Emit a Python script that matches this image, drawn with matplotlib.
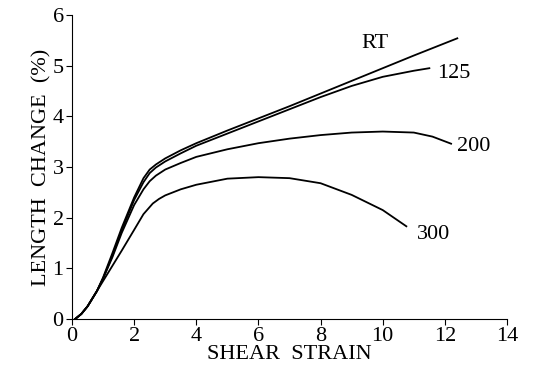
import matplotlib.pyplot as plt

# shear strain / length change (%)
rt_x = [0.1, 0.3, 0.5, 0.8, 1.0, 1.3, 1.6, 2.0, 2.3, 2.5, 2.7, 3.0, 3.5, 4.0, 5.0, 6.0, 7.0, 8.0, 9.0, 10.0, 11.0, 12.4]
rt_y = [0.0, 0.1, 0.25, 0.55, 0.82, 1.3, 1.8, 2.4, 2.78, 2.95, 3.05, 3.17, 3.33, 3.47, 3.72, 3.96, 4.2, 4.45, 4.7, 4.95, 5.2, 5.54]

c125_x = [0.1, 0.3, 0.5, 0.8, 1.0, 1.3, 1.6, 2.0, 2.3, 2.5, 2.7, 3.0, 3.5, 4.0, 5.0, 6.0, 7.0, 8.0, 9.0, 10.0, 11.0, 11.5]
c125_y = [0.0, 0.1, 0.25, 0.55, 0.8, 1.25, 1.75, 2.35, 2.7, 2.88, 2.99, 3.11, 3.27, 3.42, 3.66, 3.9, 4.14, 4.38, 4.6, 4.78, 4.9, 4.95]

c200_x = [0.1, 0.3, 0.5, 0.8, 1.0, 1.3, 1.6, 2.0, 2.3, 2.5, 2.7, 3.0, 3.5, 4.0, 5.0, 6.0, 7.0, 8.0, 9.0, 10.0, 11.0, 11.6, 12.2]
c200_y = [0.0, 0.1, 0.25, 0.55, 0.8, 1.22, 1.7, 2.25, 2.56, 2.72, 2.83, 2.95, 3.08, 3.2, 3.35, 3.47, 3.56, 3.63, 3.68, 3.7, 3.68, 3.6, 3.46]

c300_x = [0.1, 0.3, 0.5, 0.8, 1.0, 1.3, 1.6, 2.0, 2.3, 2.6, 2.8, 3.0, 3.5, 4.0, 5.0, 6.0, 7.0, 8.0, 9.0, 10.0, 10.76]
c300_y = [0.0, 0.1, 0.25, 0.55, 0.75, 1.05, 1.35, 1.76, 2.07, 2.28, 2.37, 2.44, 2.56, 2.65, 2.77, 2.8, 2.78, 2.68, 2.45, 2.15, 1.83]

labels = ["RT", "125", "200", "300"]
label_pos = [(9.75, 5.44), (11.75, 4.85), (12.4, 3.4), (11.1, 1.66)]

plt.rcParams['font.family'] = ['Liberation Serif', 'DejaVu Serif']

fig = plt.figure(figsize=(5.35, 3.8), dpi=100)
ax = fig.add_axes([0.1346, 0.1605, 0.8131, 0.80])

for x, y in [(rt_x, rt_y), (c125_x, c125_y), (c200_x, c200_y), (c300_x, c300_y)]:
    ax.plot(x, y, color="black", lw=1.3)

for (tx, ty), lab in zip(label_pos, labels):
    ha = "center" if lab == "RT" else "left"
    ax.text(tx, ty, lab, fontsize=16, ha=ha, va="center")

ax.set_xlim(0, 14)
ax.set_ylim(0, 6)
ax.set_xticks(range(0, 15, 2))
ax.set_yticks(range(0, 7))
ax.spines["top"].set_visible(False)
ax.spines["right"].set_visible(False)
ax.tick_params(direction="out", length=4, labelsize=16, color="black", pad=2)
ax.set_xlabel("SHEAR  STRAIN", fontsize=16, labelpad=-1)
ax.set_ylabel("LENGTH  CHANGE  (%)", fontsize=16, labelpad=1)

fig.savefig("out.png", dpi=100)
